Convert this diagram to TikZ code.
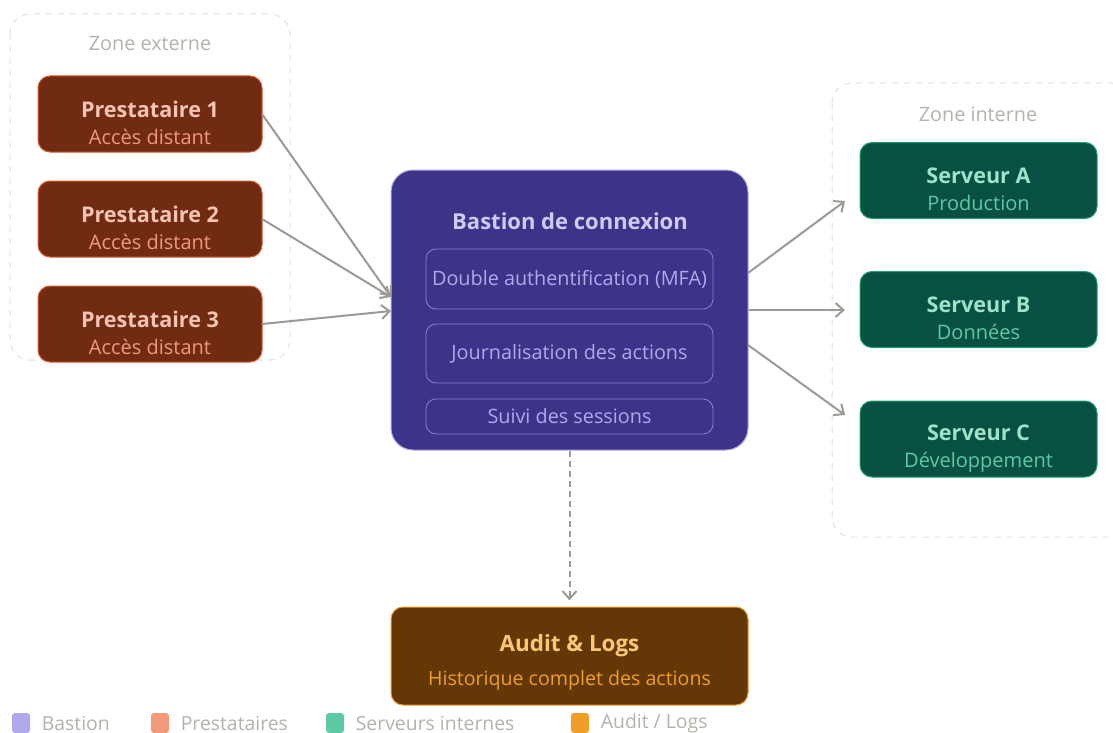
\documentclass[tikz,border=0pt]{standalone}
\usepackage{fontspec}
\setmainfont{Open Sans}
\usetikzlibrary{arrows.meta,positioning}

\definecolor{prestfill}{HTML}{712B13}
\definecolor{prestline}{HTML}{D85A30}
\definecolor{presttitle}{HTML}{F5C4B3}
\definecolor{prestsub}{HTML}{F0997B}
\definecolor{bastfill}{HTML}{3C3489}
\definecolor{bastline}{HTML}{AFA9EC}
\definecolor{basttitle}{HTML}{CECBF6}
\definecolor{bastinner}{HTML}{8880DC}
\definecolor{servfill}{HTML}{085041}
\definecolor{servline}{HTML}{1D9E75}
\definecolor{servtitle}{HTML}{9FE1CB}
\definecolor{servsub}{HTML}{5DCAA5}
\definecolor{auditfill}{HTML}{633806}
\definecolor{auditline}{HTML}{EF9F27}
\definecolor{audittitle}{HTML}{FAC775}
\definecolor{zoneline}{HTML}{E3E1DB}
\definecolor{zonetext}{HTML}{B4B2A9}
\definecolor{flow}{HTML}{9C9A92}

\newcommand{\subline}[2]{\\[1.5pt]{\fontsize{10}{12}\selectfont\mdseries\color{#1}#2}}
\newcommand{\toppad}[1]{\rule{0pt}{#1}}

\begin{document}
\begin{tikzpicture}[x=0.5pt,y=-0.5pt,
  zone/.style={draw=zoneline,dashed,line width=0.5pt,rounded corners=10pt},
  zonelabel/.style={text=zonetext,font=\fontsize{9.9}{12}\selectfont},
  card/.style={rounded corners=6pt,line width=0.5pt,align=center,inner sep=0pt,
    font=\fontsize{10.8}{12}\selectfont\bfseries},
  prest/.style={card,fill=prestfill,draw=prestline,text=presttitle,
    minimum width=112pt,minimum height=38pt},
  serv/.style={card,fill=servfill,draw=servline,text=servtitle,
    minimum width=118.5pt,minimum height=38pt},
  feature/.style={draw=bastinner,rounded corners=5pt,line width=0.4pt,inner xsep=1pt,
    minimum width=143.5pt,text=bastline,font=\fontsize{9.9}{12}\selectfont},
  flowarrow/.style={draw=flow,line width=1pt,-{Straight Barb[length=4pt,width=7pt]}},
  legsq/.style={rounded corners=1.5pt,minimum width=9pt,minimum height=10pt,inner sep=0pt},
  legtext/.style={text=zonetext,font=\fontsize{9.7}{11}\selectfont,inner sep=0pt}]
\useasboundingbox (0,0) rectangle (1113,733);

% zones
\draw[zone] (10,14) rectangle (290,360);
\node[zonelabel] (zext) at (150,44) {Zone externe};
\draw[zone] (832,83) rectangle (1130,537);
\node[zonelabel] (zint) at (978,114) {Zone interne};

% prestataires
\node[prest] (p1) at (150,114) {\toppad{17pt}Prestataire 1\subline{prestsub}{Accès distant}};
\node[prest] (p2) at (150,219) {\toppad{17pt}Prestataire 2\subline{prestsub}{Accès distant}};
\node[prest] (p3) at (150,324) {\toppad{17pt}Prestataire 3\subline{prestsub}{Accès distant}};

% bastion
\node[rounded corners=11pt,fill=bastfill,draw=bastline,line width=0.5pt,
  minimum width=178.5pt,minimum height=140pt] (bastion) at (569.5,310) {};
\node[text=basttitle,font=\fontsize{11}{13}\selectfont\bfseries] (btitle) at (570,221) {Bastion de connexion};
\node[feature,minimum height=30pt] (mfa) at (569.5,279) {Double authentification (MFA)};
\node[feature,minimum height=29.5pt] (journal) at (569.5,353.5) {Journalisation des actions};
\node[feature,minimum height=17.5pt] (suivi) at (569.5,416.5) {Suivi des sessions};

% serveurs
\node[serv] (sa) at (978.5,180.5) {\toppad{17pt}Serveur A\subline{servsub}{Production}};
\node[serv] (sb) at (978.5,309.5) {\toppad{17pt}Serveur B\subline{servsub}{Données}};
\node[serv] (sc) at (978.5,439) {\toppad{17pt}Serveur C\subline{servsub}{Développement}};

% audit
\node[card,fill=auditfill,draw=auditline,text=audittitle,font=\fontsize{11.2}{12}\selectfont\bfseries,
  minimum width=178.5pt,minimum height=49pt] (audit) at (569.5,656)
  {\toppad{15pt}Audit \& Logs\\[5pt]{\fontsize{9.8}{11}\selectfont\mdseries\color{auditline}Historique complet des actions}};

% flux
\coordinate (bin) at (391,297);
\coordinate (bin3) at (391,311);
\draw[flowarrow] (262,114) -- (bin);
\draw[flowarrow] (262,219) -- (bin);
\draw[flowarrow] (262,324) -- (bin3);
\coordinate (aend) at (845,201);
\coordinate (bend) at (845,310);
\coordinate (cend) at (845,415);
\draw[flowarrow] (748,273) -- (aend);
\draw[flowarrow] (bastion.east) -- (bend);
\draw[flowarrow] (748,345) -- (cend);
\draw[flowarrow,dashed,dash pattern=on 3pt off 2pt] (bastion.south) -- ([yshift=3pt]audit.north);

% legende
\node[legsq,fill=bastline] (lg1) at (21,723) {};
\node[legtext,right=5.5pt of lg1] (lt1) {Bastion};
\node[legsq,fill=prestsub] (lg2) at (160,723) {};
\node[legtext,right=5.5pt of lg2] (lt2) {Prestataires};
\node[legsq,fill=servsub] (lg3) at (335,723) {};
\node[legtext,right=5.5pt of lg3] (lt3) {Serveurs internes};
\node[legsq,fill=auditline] (lg4) at (580,723) {};
\node[legtext,right=5.5pt of lg4] (lt4) {Audit / Logs};
\end{tikzpicture}
\end{document}
